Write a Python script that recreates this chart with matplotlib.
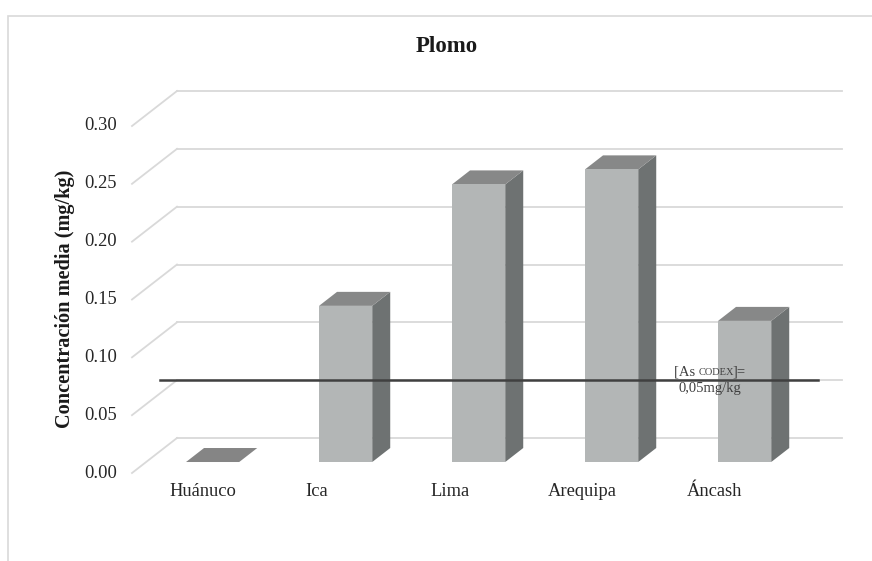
import numpy as np
import matplotlib.pyplot as plt
from matplotlib.patches import Polygon, Rectangle
from matplotlib.transforms import IdentityTransform

# mean lead concentration by region (mg/kg)
regiones = ['Huánuco', 'Ica', 'Lima', 'Arequipa', 'Áncash']
plomo = [0.0, 0.135, 0.240, 0.253, 0.122]
ticks_y = [0.00, 0.05, 0.10, 0.15, 0.20, 0.25, 0.30]
limite_codex = 0.05

plt.rcParams['font.family'] = ['Liberation Serif', 'DejaVu Serif']

W, H = 872, 561
fig = plt.figure(figsize=(W / 100, H / 100), dpi=100)

# the axes is the back wall of the pseudo-3D box
ax = fig.add_axes([177 / W, (H - 438) / H, 665 / W, 347 / H])
ax.set_xlim(-0.5, 4.5)
ax.set_ylim(0, 0.30)
ax.axis('off')

DX, DY = 45, 35        # floor depth, in pixels (front edge sits down-left)
d_front, d_back = 0.686, 0.286   # depth of bar faces (0 = back wall, 1 = front)
ancho = 0.4            # bar width in category units

grid_c = '#d9d9d9'
c_front, c_side, c_top = '#b3b6b6', '#6e7272', '#878888'
ident = IdentityTransform()


def proj(x, y, d):
    px, py = ax.transData.transform((x, y))
    return (px - DX * d, py - DY * d)


def face(pts, color, z=2):
    ax.add_patch(Polygon(pts, closed=True, facecolor=color, edgecolor='none',
                         transform=ident, clip_on=False, zorder=z))


# gridlines: back wall + diagonal on the left side wall
for v in ticks_y:
    ax.plot([-0.5, 4.5], [v, v], color=grid_c, lw=1.3, zorder=1, clip_on=False)
    p0, p1 = proj(-0.5, v, 1), proj(-0.5, v, 0)
    ax.plot([p0[0], p1[0]], [p0[1], p1[1]], color=grid_c, lw=1.3,
            transform=ident, clip_on=False, zorder=1)
    ax.text(p0[0] - 15, p0[1], f'{v:.2f}', transform=ident, ha='right',
            va='center', fontsize=13.3, color='#262626')

# bars: side, top, front
for i, v in enumerate(plomo):
    l, r = i - ancho / 2, i + ancho / 2
    top = [proj(l, v, d_front), proj(r, v, d_front), proj(r, v, d_back), proj(l, v, d_back)]
    if v > 0:
        side = [proj(r, 0, d_front), proj(r, 0, d_back), proj(r, v, d_back), proj(r, v, d_front)]
        front = [proj(l, 0, d_front), proj(r, 0, d_front), proj(r, v, d_front), proj(l, v, d_front)]
        face(side, c_side)
        face(top, c_top)
        face(front, c_front)
    else:
        face(top, '#858585')

# category labels along the front edge of the floor
ajuste = [4, -15, -15, -15, -16]
for i, nombre in enumerate(regiones):
    px, py = proj(i, 0, 1)
    ax.text(px + ajuste[i], py - 18, nombre, transform=ident, ha='center', va='center',
            fontsize=13.3, color='#262626')

# Codex limit line
ax.plot([-0.63, 4.32], [limite_codex, limite_codex], color='#404040', lw=1.8,
        zorder=5, clip_on=False)

# label of the limit: "[As CODEX]=" with small caps, then the value underneath
rend = fig.canvas.get_renderer()
cx, cy = ax.transData.transform((3.507, limite_codex))
partes = [('[As ', 10.5, 0), ('CODEX', 7.5, -1.2), (']=', 10.5, 0)]
piezas = [ax.text(0, cy + 5, s, transform=ident, fontsize=fs, color='#404040',
                  va='baseline', zorder=6) for s, fs, _ in partes]
anchos = [t.get_window_extent(rend).width + k for t, (_, _, k) in zip(piezas, partes)]
x0 = cx - sum(anchos) / 2
for t, w in zip(piezas, anchos):
    t.set_x(x0)
    x0 += w
ax.text(cx, cy - 8, '0,05mg/kg', transform=ident, ha='center', va='center',
        fontsize=10.5, color='#404040', zorder=6)

# titles
fig.text(447 / W, 1 - 46 / H, 'Plomo', ha='center', va='center', fontsize=16.5,
         fontweight='bold', color='#1a1a1a')
fig.text(65 / W, 1 - 299 / H, 'Concentración media (mg/kg)', rotation=90,
         ha='center', va='center', fontsize=14.6, fontweight='bold', color='#1a1a1a')

# chart area border
fig.add_artist(Rectangle((8 / W, -0.1), 1.2, (H - 16) / H + 0.1, transform=fig.transFigure,
                         facecolor='none', edgecolor='#d9d9d9', lw=1.2))

fig.savefig('out.png', dpi=100)
